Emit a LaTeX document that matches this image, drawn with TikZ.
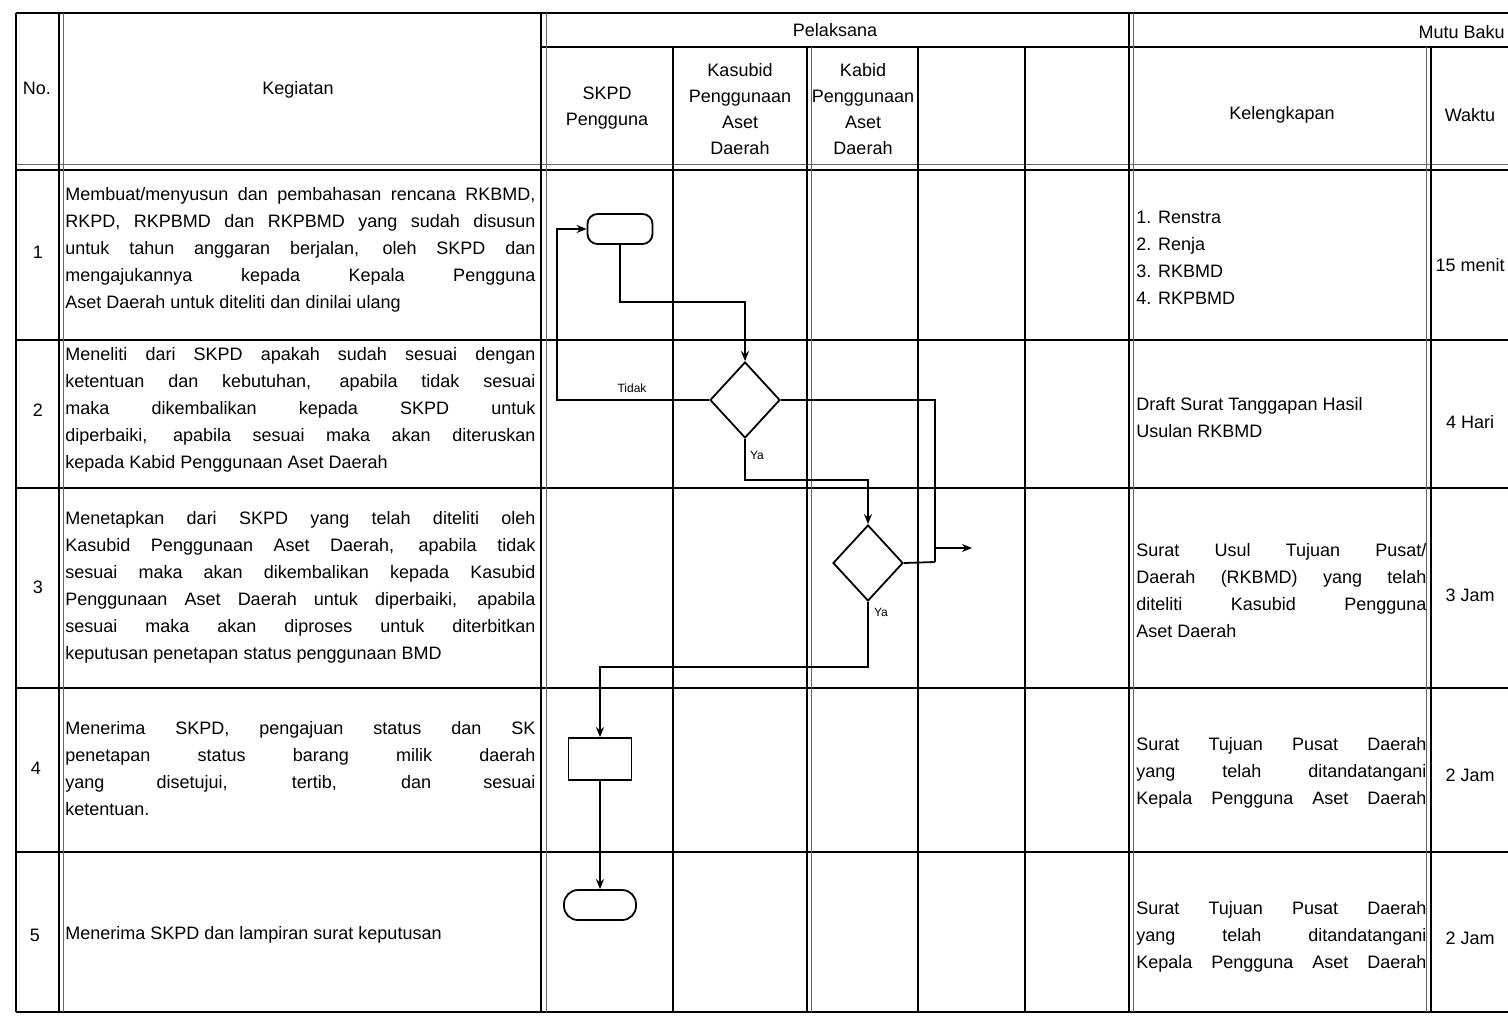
\documentclass[tikz,border=0pt]{standalone}
\usepackage{fontspec}
\setmainfont{Liberation Sans}
\usetikzlibrary{shapes.geometric,arrows.meta}
\newcommand{\J}[2]{\makebox[#1][s]{#2}}
\begin{document}
\begin{tikzpicture}[x=0.5pt,y=-0.5pt,
  gridline/.style={line width=1.1pt,black},
  thinline/.style={line width=0.5pt,black!60},
  conn/.style={line width=0.9pt,black},
  flow/.style={line width=0.9pt,black,-{Stealth[length=5pt,width=4pt]}},
  rowtxt/.style={font=\fontsize{9}{13.5}\selectfont,inner sep=0pt,align=left,anchor=west},
  hdr/.style={font=\fontsize{9}{13}\selectfont,inner sep=0pt,align=center},
  term/.style={draw,line width=0.9pt,rectangle,rounded corners=5pt,minimum width=32.5pt,minimum height=15pt,inner sep=0pt},
  stad/.style={draw,line width=0.9pt,rectangle,rounded corners=7pt,minimum width=36pt,minimum height=15pt,inner sep=0pt},
  dec/.style={draw,diamond,line width=0.9pt,inner sep=0pt,minimum width=35pt,minimum height=38pt},
  proc/.style={draw,rectangle,line width=0.9pt,minimum width=31.5pt,minimum height=21pt,inner sep=0pt},
  lbl/.style={font=\fontsize{6}{7}\selectfont,inner sep=1pt}]
\useasboundingbox (0,0) rectangle (1508,1017);
\clip (0,0) rectangle (1508,1017);
\fill[white] (0,0) rectangle (1508,1017);

% ---------- grid ----------
\draw[gridline] (16,13) -- (1508,13);
\draw[gridline] (541,47) -- (1508,47);
\draw[gridline] (16,170) -- (1508,170);
\draw[thinline] (16,164) -- (1508,164);
\foreach \y in {340,488,688,852,1012} \draw[gridline] (16,\y) -- (1508,\y);
\foreach \x in {16,59,541,1129} \draw[gridline] (\x,13) -- (\x,1012);
\foreach \x in {673,807,918,1025,1431} \draw[gridline] (\x,47) -- (\x,1012);
\foreach \x in {63,546,1133} \draw[thinline] (\x,13) -- (\x,1012);
\foreach \x in {811,1426} \draw[thinline] (\x,47) -- (\x,1012);

% ---------- header ----------
\node[hdr] (hno) at (37,88) {No.};
\node[hdr] (hkeg) at (298,90) {Kegiatan};
\node[hdr] (hpel) at (835,30) {Pelaksana};
\node[hdr,anchor=east] (hmutu) at (1505,32) {Mutu Baku};
\node[hdr] (hskpd) at (607,108) {SKPD\\Pengguna};
\node[hdr] (hkasub) at (740,109) {Kasubid\\Penggunaan\\Aset\\Daerah};
\node[hdr] (hkabid) at (863,109) {Kabid\\Penggunaan\\Aset\\Daerah};
\node[hdr] (hkel) at (1282,115) {Kelengkapan};
\node[hdr] (hwak) at (1470,115) {Waktu};

% ---------- numbers ----------
\node[hdr] (n1) at (38,252) {1};
\node[hdr] (n2) at (38,410) {2};
\node[hdr] (n3) at (38,587) {3};
\node[hdr] (n4) at (36,768) {4};
\node[hdr] (n5) at (35,935) {5};

% ---------- kegiatan ----------
\node[rowtxt] (k1) at (65,250) {%
\J{235pt}{Membuat/menyusun dan pembahasan rencana RKBMD,}\\
\J{235pt}{RKPD, RKPBMD dan RKPBMD yang sudah disusun}\\
\J{235pt}{untuk tahun anggaran berjalan, oleh SKPD dan}\\
\J{235pt}{mengajukannya kepada Kepala Pengguna}\\
Aset Daerah untuk diteliti dan dinilai ulang};
\node[rowtxt] (k2) at (65,410) {%
\J{235pt}{Meneliti dari SKPD apakah sudah sesuai dengan}\\
\J{235pt}{ketentuan dan kebutuhan, apabila tidak sesuai}\\
\J{235pt}{maka dikembalikan kepada SKPD untuk}\\
\J{235pt}{diperbaiki, apabila sesuai maka akan diteruskan}\\
kepada Kabid Penggunaan Aset Daerah};
\node[rowtxt] (k3) at (65,587) {%
\J{235pt}{Menetapkan dari SKPD yang telah diteliti oleh}\\
\J{235pt}{Kasubid Penggunaan Aset Daerah, apabila tidak}\\
\J{235pt}{sesuai maka akan dikembalikan kepada Kasubid}\\
\J{235pt}{Penggunaan Aset Daerah untuk diperbaiki, apabila}\\
\J{235pt}{sesuai maka akan diproses untuk diterbitkan}\\
keputusan penetapan status penggunaan BMD};
\node[rowtxt] (k4) at (65,769) {%
\J{235pt}{Menerima SKPD, pengajuan status dan SK}\\
\J{235pt}{penetapan status barang milik daerah}\\
\J{235pt}{yang disetujui, tertib, dan sesuai}\\
ketentuan.};
\node[rowtxt] (k5) at (65,935) {Menerima SKPD dan lampiran surat keputusan};

% ---------- kelengkapan ----------
\node[rowtxt] (l1) at (1136,258) {1. Renstra\\2. Renja\\3. RKBMD\\4. RKPBMD};
\node[rowtxt] (l2) at (1136,418) {Draft Surat Tanggapan Hasil\\Usulan RKBMD};
\node[rowtxt] (l3) at (1136,591) {%
\J{145pt}{Surat Usul Tujuan Pusat/}\\
\J{145pt}{Daerah (RKBMD) yang telah}\\
\J{145pt}{diteliti Kasubid Pengguna}\\
Aset Daerah};
\node[rowtxt] (l4) at (1136,773) {%
\J{145pt}{Surat Tujuan Pusat Daerah}\\
\J{145pt}{yang telah ditandatangani}\\
\J{145pt}{Kepala Pengguna Aset Daerah}};
\node[rowtxt] (l5) at (1136,937) {%
\J{145pt}{Surat Tujuan Pusat Daerah}\\
\J{145pt}{yang telah ditandatangani}\\
\J{145pt}{Kepala Pengguna Aset Daerah}};

% ---------- waktu ----------
\node[hdr] (w1) at (1470,265) {15 menit};
\node[hdr] (w2) at (1470,422) {4 Hari};
\node[hdr] (w3) at (1470,595) {3 Jam};
\node[hdr] (w4) at (1470,775) {2 Jam};
\node[hdr] (w5) at (1470,938) {2 Jam};

% ---------- flowchart ----------
\node[term] (t1) at (620,229) {};
\node[dec] (d1) at (745,400) {};
\node[dec] (d2) at (868,563) {};
\node[proc] (p1) at (600,759) {};
\node[stad] (t2) at (600,905) {};
\coordinate (jn) at (935,562);
\coordinate (ja) at (935,548);
\coordinate (ea) at (972,548);

\draw[flow] (t1.south) -- (620,302) -| (d1.north);
\draw[flow] (d1.west) -- (557,400) |- (t1.west);
\node[lbl] (ltidak) at (632,388) {Tidak};
\draw[flow] (d1.south) -- (745,480) -| (d2.north);
\node[lbl] (lya1) at (757,455) {Ya};
\draw[conn] (d1.east) -| (jn);
\draw[conn] (d2.east) -- (jn);
\draw[flow] (ja) -- (ea);
\draw[flow] (d2.south) -- (868,667) -| (p1.north);
\node[lbl] (lya2) at (881,612) {Ya};
\draw[flow] (p1.south) -- (t2.north);
\end{tikzpicture}
\end{document}
